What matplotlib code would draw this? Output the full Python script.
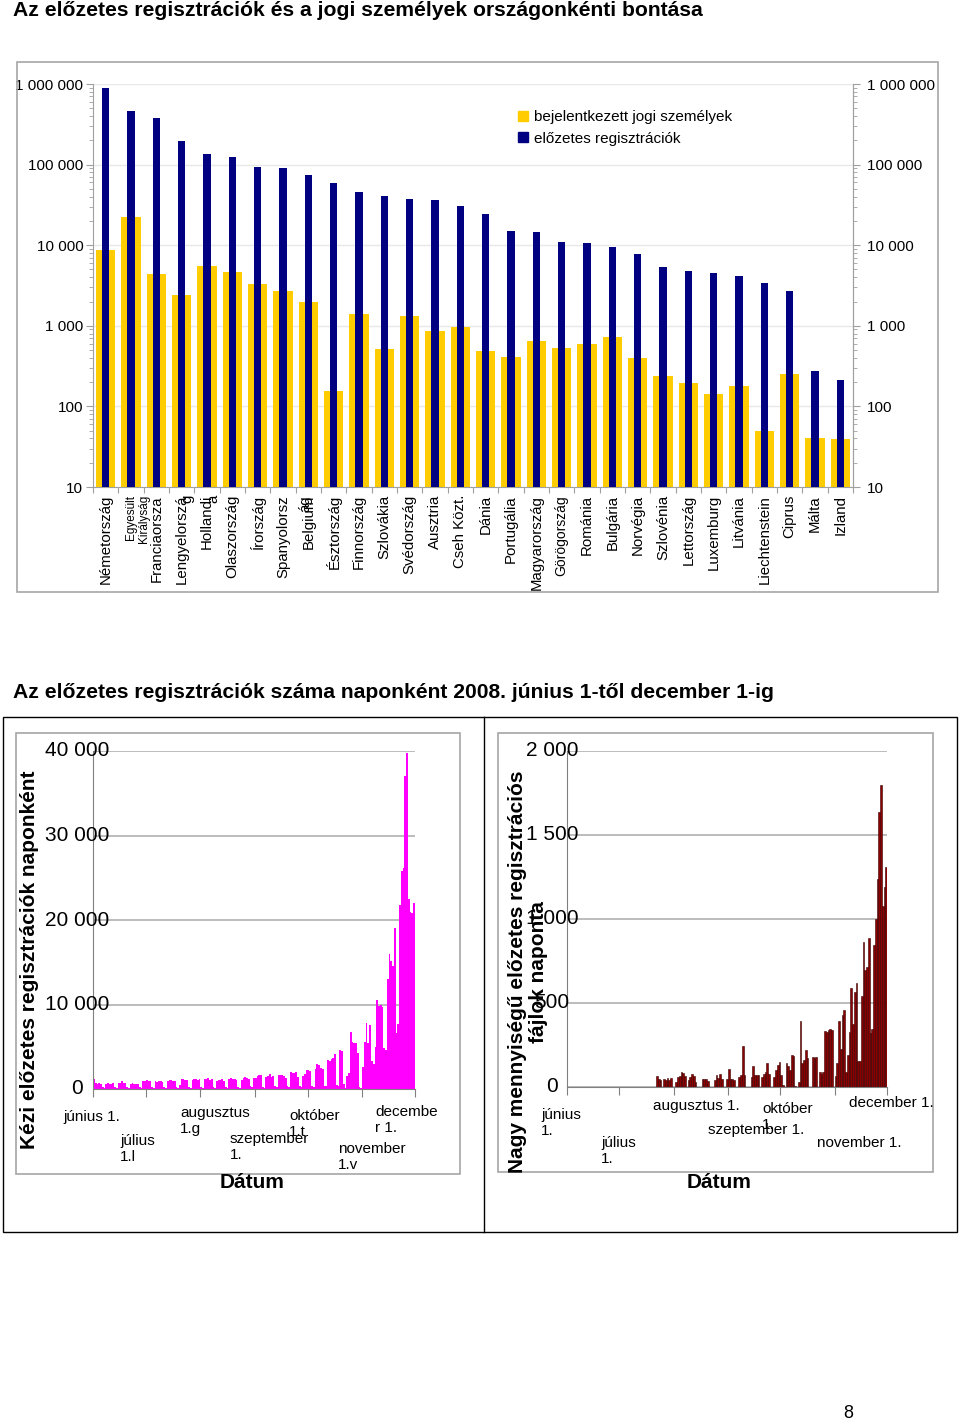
import matplotlib
matplotlib.use('Agg')
import matplotlib.pyplot as plt
import numpy as np
from matplotlib.patches import Rectangle
from matplotlib.lines import Line2D
from matplotlib.ticker import FuncFormatter, LogLocator, NullFormatter

plt.rcParams['font.family'] = ['Liberation Sans', 'DejaVu Sans']

W, H = 960, 1422

# --- country breakdown (log scale) ---
countries = ['Németország', 'Egyesült\nKirályság', 'Franciaorsza', 'Lengyelorszá\ng', 'Hollandi\na',
             'Olaszország', 'Írország', 'Spanyolorsz\nág', 'Belgium', 'Észtország',
             'Finnország', 'Szlovákia', 'Svédország', 'Ausztria', 'Cseh Közt.',
             'Dánia', 'Portugália', 'Magyarország', 'Görögország', 'Románia',
             'Bulgária', 'Norvégia', 'Szlovénia', 'Lettország', 'Luxemburg',
             'Litvánia', 'Liechtenstein', 'Ciprus', 'Málta', 'Izland']
pre_registrations = [900000, 465000, 374000, 197000, 137000, 123000, 92600, 92000, 73600, 59200,
                     45300, 40400, 37400, 36000, 30600, 24300, 15200, 14700, 10900, 10600,
                     9450, 7810, 5300, 4720, 4500, 4130, 3410, 2670, 278, 211]
legal_persons = [8770, 22700, 4400, 2430, 5470, 4700, 3280, 2670, 1950, 156,
                 1420, 510, 1315, 867, 972, 480, 410, 653, 535, 588,
                 732, 395, 235, 196, 143, 178, 49, 250, 40, 39]

# --- daily counts, 1 June .. 30 November 2008 ---
manual_daily = [
    # June
    1150, 700, 650, 700, 650, 250, 150, 650, 700, 600, 650, 700, 200, 150,
    750, 700, 900, 700, 750, 250, 150, 650, 700, 600, 650, 650, 200, 150, 1000, 950,
    # July
    1050, 1000, 900, 250, 150, 900, 850, 1000, 900, 850, 200, 150,
    1000, 1050, 1100, 950, 1000, 250, 150, 500, 1200, 1150, 1050, 1100, 250, 150,
    1100, 1150, 1200, 1100, 1200,
    # August
    250, 150, 1200, 1150, 1250, 1100, 1150, 250, 150, 1000, 1100, 1050, 1150, 1000, 250, 150,
    1200, 1250, 1150, 1200, 1100, 250, 150, 1100, 1300, 1450, 1250, 1200, 300, 200, 1300,
    # September
    1250, 1500, 1650, 1600, 250, 150, 1450, 1500, 1750, 1400, 1500, 300, 200,
    1600, 1650, 1650, 1550, 1300, 300, 200, 2050, 1850, 1950, 2050, 1400, 300, 200,
    1500, 1800, 2200,
    # October
    2250, 2100, 300, 200, 2400, 2900, 2800, 2500, 2400, 400, 300, 3400, 3300, 3500, 3700,
    4100, 500, 400, 4600, 4500, 600, 100, 1500, 1900, 6800, 5600, 5500, 5400, 4300, 200, 100,
    # November
    2600, 5600, 7800, 5500, 7600, 3300, 3000, 5000, 10500, 9800, 10000, 9700, 4800, 4600,
    13000, 16000, 15200, 14600, 19000, 6600, 7700, 21800, 25800, 26200, 37000, 39800,
    22500, 21000, 20800, 22000,
]
bulk_daily = [0] * 51 + [
    # late July .. September
    65, 45, 40, 0, 45, 40, 55, 40, 55, 0, 0, 30, 60, 65, 90, 85, 65, 0, 40, 60, 80, 65, 30,
    0, 0, 0, 50, 50, 45, 35, 0, 0, 0, 40, 70, 55, 80, 45, 0, 0, 50, 110, 45, 45, 40, 0, 0,
    60, 70, 245, 70, 0, 0, 0, 60, 125, 70, 70, 70, 0, 60, 80, 90, 145, 80, 0, 0, 60, 100,
    130, 150,
    # October
    70, 10, 0, 140, 125, 100, 190, 185, 5, 0, 30, 393, 140, 160, 222, 175, 0, 0, 180, 175,
    180, 0, 90, 75, 90, 333, 327, 341, 347, 337, 0,
    # November
    63, 143, 393, 228, 430, 456, 90, 188, 327, 589, 377, 565, 621, 155, 155, 542, 863, 694,
    714, 889, 321, 347, 843, 998, 1240, 1637, 1796, 1075, 1190, 1310,
]
month_starts = [0, 30, 61, 92, 122, 153, 183]


def fx(x):
    return x / W


def fy(y):
    return 1 - y / H


def spaced(v, pos=None):
    return f"{int(round(v)):,}".replace(",", " ")


fig = plt.figure(figsize=(W / 100, H / 100), dpi=100)
fig.patch.set_facecolor('white')

# frames
fig.patches.append(Rectangle((fx(17), fy(592)), (938 - 17) / W, (592 - 62) / H, transform=fig.transFigure,
                             fill=False, edgecolor='#a6a6a6', linewidth=1.2))
fig.patches.append(Rectangle((fx(3), fy(1232)), (957 - 3) / W, (1232 - 717) / H, transform=fig.transFigure,
                             fill=False, edgecolor='#000000', linewidth=1.0))
fig.lines.append(Line2D([fx(484), fx(484)], [fy(717), fy(1232)], transform=fig.transFigure,
                        color='#000000', linewidth=1.0))
fig.patches.append(Rectangle((fx(16), fy(1174)), (460 - 16) / W, (1174 - 733) / H, transform=fig.transFigure,
                             fill=False, edgecolor='#a6a6a6', linewidth=1.2))
fig.patches.append(Rectangle((fx(498), fy(1172)), (933 - 498) / W, (1172 - 733) / H, transform=fig.transFigure,
                             fill=False, edgecolor='#a6a6a6', linewidth=1.2))

fig.text(fx(13), fy(11), 'Az előzetes regisztrációk és a jogi személyek országonkénti bontása',
         fontsize=15.2, fontweight='bold', ha='left', va='center')
fig.text(fx(13), fy(693), 'Az előzetes regisztrációk száma naponként 2008. június 1-től december 1-ig',
         fontsize=15.2, fontweight='bold', ha='left', va='center')
fig.text(fx(848), fy(1413), '8', fontsize=13, ha='center', va='center')

# ---- top chart ----
ax = fig.add_axes([fx(93), fy(487), (853 - 93) / W, (487 - 84) / H])
x = np.arange(len(countries))
ax.bar(x, legal_persons, width=0.76, color='#FFCC00', zorder=2)
ax.bar(x, pre_registrations, width=0.28, color='#000080', zorder=3)
ax.set_yscale('log')
ax.set_ylim(10, 1e6)
ax.set_xlim(-0.5, len(countries) - 0.5)
ax.yaxis.set_major_formatter(FuncFormatter(spaced))
ax.yaxis.set_minor_locator(LogLocator(subs=np.arange(2, 10)))
ax.yaxis.set_minor_formatter(NullFormatter())
ax.yaxis.grid(True, which='major', color='#e8e8e8', linewidth=1)
ax.set_axisbelow(True)
ax.spines['top'].set_visible(False)
for s in ['left', 'bottom', 'right']:
    ax.spines[s].set_color('#a0a0a0')
ax.set_xticks(np.arange(len(countries) + 1) - 0.5)
ax.set_xticklabels([])
ax.tick_params(axis='x', length=4, color='#a0a0a0')
ax.tick_params(axis='y', which='major', length=5, color='#a0a0a0', labelsize=11, pad=2)
ax.tick_params(axis='y', which='minor', length=3, color='#a0a0a0')

# wrapped labels: second line shifted right by a few pixels, as in the original
second_line_shift = {1: 13, 3: 6, 4: 6, 7: 22}
for i, name in enumerate(countries):
    size = 8.5 if i == 1 else (10 if i == 18 else 10.8)
    lines = name.split('\n')
    ax.text(i, -0.02, lines[0], transform=ax.get_xaxis_transform(), rotation=90,
            ha='center', va='top', fontsize=size)
    if len(lines) > 1:
        ax.text(i + second_line_shift[i] / 25.33, -0.02, lines[1], transform=ax.get_xaxis_transform(),
                rotation=90, ha='center', va='top', fontsize=size)

ax2 = ax.twinx()
ax2.set_yscale('log')
ax2.set_ylim(10, 1e6)
ax2.yaxis.set_major_formatter(FuncFormatter(spaced))
ax2.yaxis.set_minor_locator(LogLocator(subs=np.arange(2, 10)))
ax2.yaxis.set_minor_formatter(NullFormatter())
for s in ['top', 'left', 'bottom']:
    ax2.spines[s].set_visible(False)
ax2.spines['right'].set_color('#a0a0a0')
ax2.tick_params(axis='y', which='major', length=5, color='#a0a0a0', labelsize=11, pad=5)
ax2.tick_params(axis='y', which='minor', length=3, color='#a0a0a0')

handles = [Rectangle((0, 0), 1, 1, color='#FFCC00'), Rectangle((0, 0), 1, 1, color='#000080')]
fig.legend(handles, ['bejelentkezett jogi személyek', 'előzetes regisztrációk'], loc='upper left',
           bbox_to_anchor=(fx(512), fy(104)), frameon=False, fontsize=11, handlelength=0.65,
           handleheight=0.65, handletextpad=0.4, labelspacing=0.5, borderaxespad=0)


# ---- daily charts ----
def daily_axes(rect, values, color, edge, ymax, step, label_x):
    a = fig.add_axes(rect)
    d = np.arange(len(values))
    a.bar(d, values, width=1.0, align='edge', color=color, edgecolor=edge,
          linewidth=0.4 if edge != 'none' else 0, zorder=2)
    a.set_xlim(0, 183)
    a.set_ylim(0, ymax)
    ticks = np.arange(0, ymax + 1, step)
    a.set_yticks(ticks)
    a.set_yticklabels([])
    a.yaxis.grid(True, color='#b0b0b0', linewidth=1.2)
    a.set_axisbelow(True)
    a.set_xticks(month_starts)
    a.set_xticklabels([])
    a.tick_params(axis='x', length=6, color='#808080')
    a.tick_params(axis='y', length=0)
    # value labels sit centred just left of (and over) the axis line
    for v in ticks:
        a.text(label_x, v, spaced(v), transform=a.get_yaxis_transform(), ha='center', va='center',
               fontsize=15, zorder=5, clip_on=False)
    a.spines['top'].set_visible(False)
    a.spines['right'].set_visible(False)
    a.spines['left'].set_color('#808080')
    a.spines['bottom'].set_color('#808080')
    return a


axL = daily_axes([fx(93), fy(1089), (415 - 93) / W, (1089 - 751) / H], manual_daily,
                 '#FF00FF', 'none', 40000, 10000, -0.05)
axR = daily_axes([fx(567), fy(1087), (887 - 567) / W, (1087 - 751) / H], bulk_daily,
                 '#8B0000', '#3a0000', 2000, 500, -0.047)

left_labels = [('június 1.', 63, 1110), ('július\n1.l', 120, 1134), ('augusztus\n1.g', 180, 1106),
               ('szeptember\n1.', 230, 1132), ('október\n1.t', 289, 1109), ('november\n1.v', 338, 1142),
               ('decembe\nr 1.', 375, 1105)]
right_labels = [('június\n1.', 541, 1108), ('július\n1.', 601, 1136), ('augusztus 1.', 653, 1099),
                ('szeptember 1.', 708, 1123), ('október\n1.', 762, 1102), ('november 1.', 817, 1136),
                ('december 1.', 849, 1096)]
for txt, px, py in left_labels + right_labels:
    fig.text(fx(px), fy(py), txt, fontsize=11, ha='left', va='top', linespacing=1.15)

fig.text(fx(252), fy(1183), 'Dátum', fontsize=15, fontweight='bold', ha='center', va='center')
fig.text(fx(719), fy(1182), 'Dátum', fontsize=15, fontweight='bold', ha='center', va='center')
fig.text(fx(30), fy(960), 'Kézi előzetes regisztrációk naponként', fontsize=15, fontweight='bold',
         rotation=90, ha='center', va='center')
fig.text(fx(528), fy(972), 'Nagy mennyiségű előzetes regisztrációs\nfájlok naponta', fontsize=15,
         fontweight='bold', rotation=90, ha='center', va='center', linespacing=1.15, zorder=10)

fig.savefig('out.png', dpi=100, facecolor='white')
